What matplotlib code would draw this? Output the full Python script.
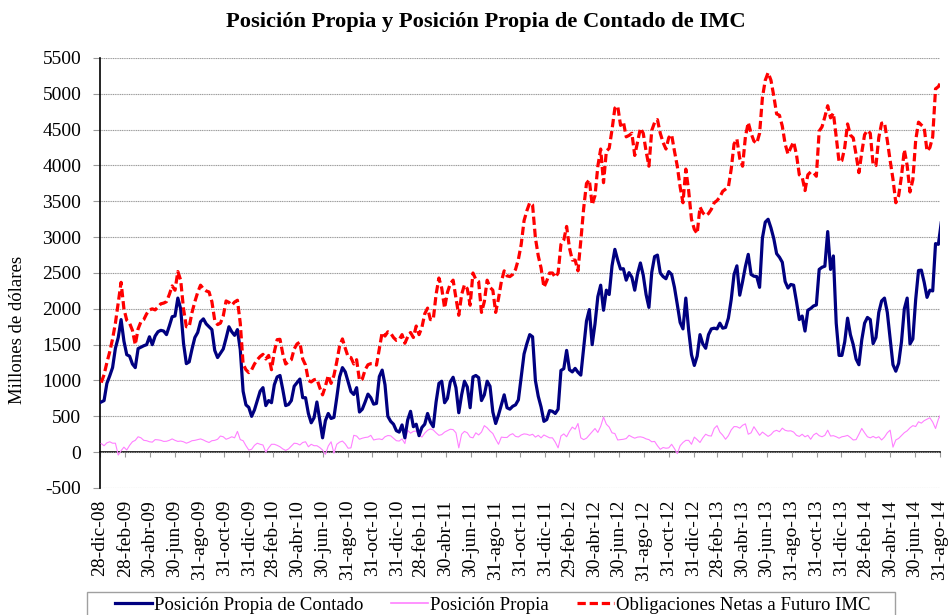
import matplotlib
matplotlib.use("Agg")
import matplotlib.pyplot as plt
from matplotlib.patches import Rectangle
import pandas as pd
import numpy as np

plt.rcParams['font.family'] = ['Liberation Serif', 'DejaVu Serif']

# ---------------- data (weekly observations) ----------------
start_date = '2008-12-31'

contado = [
    700, 720, 960, 1065, 1180, 1450, 1600, 1850, 1550, 1360,
    1340, 1230, 1180, 1445, 1465, 1485, 1500, 1610, 1500, 1620,
    1680, 1700, 1690, 1640, 1760, 1890, 1900, 2150, 2000, 1520,
    1235, 1260, 1440, 1600, 1670, 1820, 1860, 1790, 1750, 1710,
    1420, 1320, 1380, 1440, 1590, 1750, 1680, 1630, 1710, 1430,
    850, 660, 625, 500, 590, 720, 850, 900, 650, 720,
    690, 940, 1050, 1070, 870, 650, 665, 720, 920, 970,
    1020, 760, 760, 540, 410, 480, 700, 450, 200, 440,
    540, 470, 485, 760, 1050, 1180, 1120, 980, 845, 805,
    900, 560, 600, 700, 810, 760, 670, 680, 1055, 1145,
    940, 500, 430, 390, 300, 280, 380, 200, 450, 570,
    355, 390, 230, 345, 390, 540, 420, 355, 700, 960,
    990, 690, 750, 980, 1045, 900, 550, 800, 990, 910,
    620, 1050, 1070, 1040, 720, 800, 990, 920, 560, 400,
    520, 660, 800, 620, 600, 640, 660, 730, 1050, 1370,
    1515, 1640, 1610, 1000, 780, 630, 430, 455, 580, 570,
    540, 600, 1140, 1165, 1420, 1150, 1120, 1169, 1115, 1075,
    1450, 1830, 1990, 1500, 1790, 2170, 2330, 1980, 2260, 2200,
    2600, 2830, 2680, 2555, 2560, 2400, 2505, 2440, 2260, 2490,
    2640, 2470, 2200, 2020, 2510, 2729, 2750, 2500, 2450, 2420,
    2520, 2480, 2300, 2060, 1810, 1720, 2150, 1700, 1360, 1210,
    1340, 1640, 1510, 1450, 1640, 1720, 1730, 1720, 1800, 1730,
    1740, 1870, 2130, 2480, 2600, 2190, 2380, 2590, 2760, 2480,
    2455, 2450, 2300, 2990, 3210, 3250, 3130, 2980, 2770, 2720,
    2650, 2380, 2290, 2340, 2330, 2100, 1850, 1900, 1690, 1980,
    2005, 2040, 2054, 2550, 2580, 2595, 3078, 2550, 2738, 1800,
    1350, 1350, 1540, 1870, 1640, 1500, 1300, 1220, 1565, 1800,
    1880, 1850, 1515, 1600, 1950, 2110, 2150, 1950, 1590, 1220,
    1130, 1240, 1540, 2000, 2150, 1510, 1580, 2130, 2535, 2540,
    2370, 2160, 2260, 2250, 2910, 2900, 3200,
]

propia = [
    120, 90, 130, 145, 125, 125, -40, 20, 70, 30,
    95, 145, 165, 215, 200, 165, 160, 145, 140, 175,
    172, 165, 150, 152, 165, 185, 165, 150, 155, 145,
    125, 140, 160, 165, 175, 185, 170, 150, 135, 160,
    165, 180, 225, 215, 180, 195, 215, 200, 290, 175,
    160, 90, 30, 40, 95, 125, 110, 100, 0, 60,
    110, 110, 95, 75, 45, 25, 45, 85, 125, 120,
    100, 135, 145, 75, 110, 90, 90, 65, 30, -30,
    85, 145, -15, 110, 140, 155, 115, 55, 60, 235,
    225, 180, 195, 205, 210, 235, 170, 180, 185, 175,
    215, 232, 228, 195, 160, 155, 185, 120, 305, 265,
    290, 295, 245, 210, 265, 305, 325, 310, 270, 235,
    245, 280, 300, 320, 315, 270, 60, 250, 290, 270,
    210, 200, 270, 240, 280, 370, 340, 295, 260, 180,
    110, 210, 205, 205, 240, 258, 220, 212, 240, 255,
    250, 235, 250, 210, 235, 200, 240, 220, 200, 200,
    140, 60, 225, 255, 215, 290, 350, 320, 400, 200,
    175, 195, 240, 285, 330, 275, 360, 490, 390, 350,
    270, 260, 170, 175, 180, 190, 235, 213, 195, 210,
    214, 205, 185, 175, 145, 150, 90, 40, 65, 55,
    60, 110, 50, -20, 90, 135, 165, 165, 110, 210,
    175, 135, 200, 250, 230, 225, 330, 370, 280, 237,
    180, 230, 310, 357, 355, 335, 375, 395, 250, 270,
    355, 295, 235, 280, 250, 220, 245, 290, 305, 285,
    335, 305, 295, 298, 280, 235, 220, 250, 214, 235,
    180, 240, 265, 230, 215, 235, 307, 225, 230, 215,
    195, 215, 222, 234, 205, 170, 175, 250, 331, 270,
    215, 200, 220, 198, 215, 170, 210, 270, 307, 70,
    170, 192, 232, 272, 298, 340, 370, 358, 424, 405,
    440, 460, 480, 420, 330, 460, 540,
]

futuro = [
    970, 1080, 1250, 1400, 1580, 1800, 2080, 2370, 2000, 1840,
    1800, 1700, 1500, 1720, 1820, 1850, 1930, 1985, 2000, 1985,
    2025, 2070, 2080, 2100, 2200, 2320, 2260, 2520, 2400, 2000,
    1750, 1750, 1950, 2100, 2230, 2330, 2280, 2250, 2235, 2100,
    1840, 1780, 1800, 1900, 2110, 2090, 2050, 2095, 2120, 1800,
    1230, 1150, 1110, 1150, 1230, 1290, 1335, 1365, 1300, 1350,
    1150, 1400, 1570, 1575, 1370, 1230, 1260, 1290, 1440, 1510,
    1535, 1300, 1215, 1000, 980, 1010, 1020, 900, 800, 920,
    1070, 960, 1070, 1260, 1480, 1580, 1450, 1330, 1320, 1230,
    1290, 1000, 1020, 1150, 1220, 1235, 1235, 1215, 1440, 1670,
    1620, 1680, 1660, 1600, 1560, 1570, 1640, 1520, 1610, 1670,
    1600, 1760, 1640, 1740, 1930, 2010, 1850, 1850, 2200, 2430,
    2285, 2010, 2230, 2350, 2400, 2150, 1910, 2200, 2335, 2280,
    2050, 2500, 2410, 2380, 1950, 2100, 2400, 2300, 2260, 1950,
    2145, 2380, 2530, 2460, 2450, 2480, 2550, 2690, 2900, 3230,
    3370, 3480, 3450, 2990, 2740, 2570, 2300, 2390, 2500, 2500,
    2440, 2500, 2900, 2960, 3150, 2850, 2680, 2680, 2530, 2950,
    3400, 3750, 3800, 3450, 3580, 3990, 4230, 3760, 4200, 4240,
    4500, 4800, 4830, 4560, 4610, 4400, 4420, 4450, 4140, 4330,
    4520, 4450, 4200, 3990, 4490, 4600, 4640, 4450, 4320, 4230,
    4390, 4430, 4200, 3990, 3700, 3480, 3950, 3650, 3250, 3110,
    3050, 3420, 3340, 3300, 3330, 3390, 3480, 3510, 3560, 3640,
    3670, 3700, 3950, 4300, 4370, 4100, 3990, 4400, 4600, 4450,
    4340, 4310, 4450, 4950, 5190, 5295, 5190, 4970, 4720, 4700,
    4550, 4300, 4160, 4250, 4330, 4150, 3870, 3840, 3650, 3870,
    3910, 3900, 3850, 4480, 4540, 4680, 4834, 4665, 4731, 4400,
    4050, 4070, 4250, 4580, 4425, 4385, 4150, 3900, 4180, 4430,
    4490, 4450, 4010, 4000, 4390, 4590, 4600, 4350, 4070, 3810,
    3480, 3580, 3850, 4220, 4000, 3630, 3800, 4350, 4605, 4565,
    4530, 4200, 4250, 4400, 5070, 5100, 5174,
]

tick_dates = [
    '2008-12-28', '2009-02-28', '2009-04-30', '2009-06-30', '2009-08-31', '2009-10-31',
    '2009-12-31', '2010-02-28', '2010-04-30', '2010-06-30', '2010-08-31', '2010-10-31',
    '2010-12-31', '2011-02-28', '2011-04-30', '2011-06-30', '2011-08-31', '2011-10-31',
    '2011-12-31', '2012-02-29', '2012-04-30', '2012-06-30', '2012-08-31', '2012-10-31',
    '2012-12-31', '2013-02-28', '2013-04-30', '2013-06-30', '2013-08-31', '2013-10-31',
    '2013-12-31', '2014-02-28', '2014-04-30', '2014-06-30', '2014-08-31',
]
tick_labels = [
    '28-dic-08', '28-feb-09', '30-abr-09', '30-jun-09', '31-ago-09', '31-oct-09',
    '31-dic-09', '28-feb-10', '30-abr-10', '30-jun-10', '31-ago-10', '31-oct-10',
    '31-dic-10', '28-feb-11', '30-abr-11', '30-jun-11', '31-ago-11', '31-oct-11',
    '31-dic-11', '29-feb-12', '30-abr-12', '30-jun-12', '31-ago-12', '31-oct-12',
    '31-dic-12', '28-feb-13', '30-abr-13', '30-jun-13', '31-ago-13', '31-oct-13',
    '31-dic-13', '28-feb-14', '30-abr-14', '30-jun-14', '31-ago-14',
]
y_ticks = list(range(-500, 5501, 500))

series_names = ['Posición Propia de Contado', 'Posición Propia',
                'Obligaciones Netas a Futuro IMC']
title = 'Posición Propia y Posición Propia de Contado de IMC'
ylabel = 'Millones de dólares'

# ---------------- figure ----------------
W, H = 950, 615
fig = plt.figure(figsize=(W / 100, H / 100), dpi=100)
ax = fig.add_axes([100 / W, 1 - 488 / H, 840 / W, 430 / H])

dates = pd.date_range(start_date, periods=len(contado), freq='7D')
tdates = pd.to_datetime(tick_dates)

ax.set_ylim(y_ticks[0], y_ticks[-1])
ax.set_xlim(tdates[0], tdates[-1])

l1, = ax.plot(dates, contado, color='#000080', lw=2.3, solid_joinstyle='round',
              zorder=4)
l2, = ax.plot(dates, propia, color='#FF80FF', lw=0.8, zorder=3)
l3, = ax.plot(dates, futuro, color='#FF0000', lw=2.3,
              linestyle=(0, (2.6, 1.2)), zorder=5)

ax.set_yticks(y_ticks)
ax.set_yticklabels([str(v) for v in y_ticks])
ax.grid(axis='y', color='#9a9a9a', lw=0.8, linestyle=(0, (1, 0.6)))
ax.set_axisbelow(True)
ax.tick_params(axis='y', length=5, width=0.8, color='#9a9a9a', pad=8.5,
               labelsize=14)

ax.set_xticks(tdates)
ax.set_xticklabels(tick_labels, rotation=90, va='top', ha='center')
ax.tick_params(axis='x', length=0, pad=8.5, labelsize=14)

for s in ['top', 'right', 'bottom']:
    ax.spines[s].set_visible(False)
ax.spines['left'].set_linewidth(1.2)
ax.spines['left'].set_color('black')

# zero line with tick marks (axis crossing at 0)
zero_loc = (0 - y_ticks[0]) / (y_ticks[-1] - y_ticks[0])
sec = ax.secondary_xaxis(zero_loc)
sec.set_xticks(tdates)
sec.set_xticklabels([''] * len(tdates))
sec.tick_params(axis='x', length=3.5, width=0.8, color='#9a9a9a', direction='out')
sec.spines['bottom'].set_linewidth(1.2)
sec.spines['bottom'].set_color('black')
for s in ['top', 'left', 'right']:
    if s in sec.spines:
        sec.spines[s].set_visible(False)

fig.text(486 / W, 1 - 22 / H, title, ha='center', va='center',
         fontsize=16.2, fontweight='bold')
fig.text(18 / W, 1 - 330 / H, ylabel, ha='center', va='center',
         rotation=90, fontsize=13.5)

# legend frame (extends beyond the bottom edge as in the reference)
fig.patches.append(Rectangle((87 / W, 1 - 625 / H), (895 - 87) / W, 33 / H,
                             transform=fig.transFigure, fill=False,
                             edgecolor='#a0a0a0', lw=1.0))
leg = fig.legend([l1, l2, l3], series_names, loc='center left',
                 bbox_to_anchor=(115 / W, 1 - 605 / H), ncol=3, frameon=False,
                 fontsize=13.5, handlelength=1.95, handletextpad=0.12,
                 columnspacing=1.5, borderaxespad=0, borderpad=0)
leg.legend_handles[1].set_linewidth(1.2)

fig.savefig('out.png', dpi=100)
